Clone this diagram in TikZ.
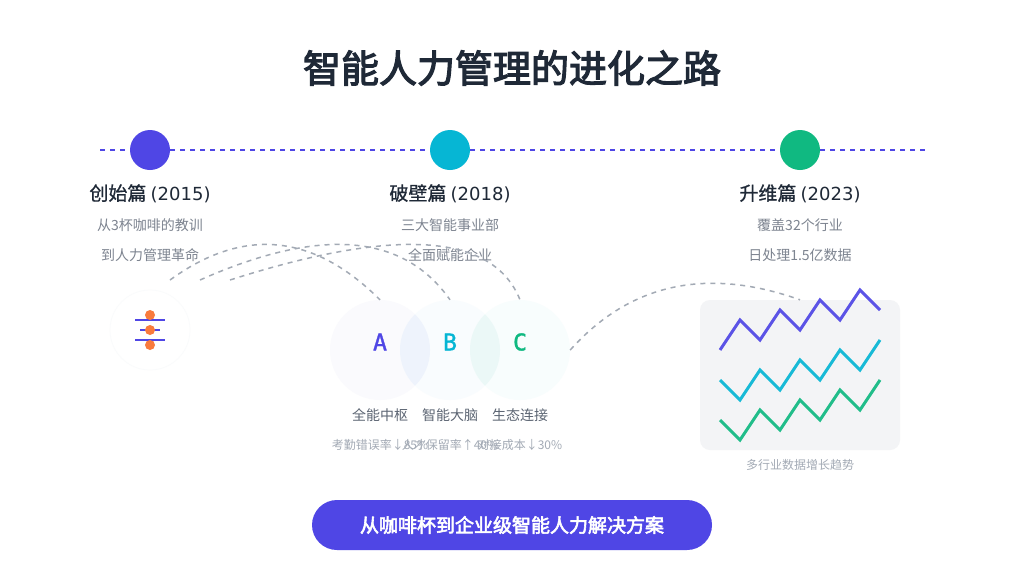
\documentclass[tikz,border=0pt]{standalone}
\usepackage{fontspec}
\usepackage{xcolor}
\usetikzlibrary{arrows.meta}
\setmainfont{Noto Sans CJK SC}
\newfontfamily\latinfont{DejaVu Sans}
\newfontfamily\monofont[FakeBold=1.5]{DejaVu Sans Mono}
\newfontfamily\medfont[FakeBold=0.8]{Noto Sans CJK SC}
\newfontfamily\titlefont[FakeBold=3]{Noto Sans CJK SC}
\definecolor{indigo}{HTML}{4F46E5}
\definecolor{cyanish}{HTML}{06B6D4}
\definecolor{emerald}{HTML}{10B981}
\definecolor{darkink}{HTML}{1F2937}
\definecolor{midink}{HTML}{5B6472}
\definecolor{softink}{HTML}{7D8490}
\definecolor{paleink}{HTML}{A3AAB5}
\definecolor{peach}{HTML}{F97B3D}
\definecolor{panel}{HTML}{F3F4F6}
\definecolor{ring}{HTML}{FAFBFC}
\definecolor{vennAfill}{HTML}{FAFAFD}
\definecolor{vennBfill}{HTML}{F9FCFE}
\definecolor{vennCfill}{HTML}{F8FDFD}
\definecolor{lensAB}{HTML}{EEF3FC}
\definecolor{lensBC}{HTML}{EBF8F7}
\newcommand{\px}[1]{\fontsize{#1}{#1}\selectfont}
\tikzset{
    dot/.style={circle, minimum size=40pt, inner sep=0pt},
    venn/.style={circle, minimum size=100pt, inner sep=0pt},
    era/.style={font=\medfont\px{19}, text=darkink, inner sep=0pt},
    blurb/.style={font=\px{14}, text=softink, inner sep=0pt},
    vennhead/.style={font=\monofont\px{23}, inner sep=0pt},
    vennname/.style={font=\px{14}, text=midink, inner sep=0pt},
    vennstat/.style={font=\px{12}, text=paleink, inner sep=0pt},
    link/.style={draw=paleink, line width=1.5pt, dash pattern=on 5pt off 5pt},
    trend/.style={line width=3pt, opacity=0.92},
    bar/.style={indigo, line width=2.5pt}
}

\begin{document}
\begin{tikzpicture}[x=1pt, y=-1pt]
        \useasboundingbox (0,0) rectangle (1024,576);
        \fill[white] (0,0) rectangle (1024,576);

        \coordinate (LineL) at (100,150);
        \coordinate (LineR) at (925,150);
        \coordinate (Start1) at (170,280);
        \coordinate (Start2) at (200,280);
        \coordinate (Start3) at (230,280);

        \node[font=\titlefont\px{38}, text=darkink, inner sep=0pt] (Title) at (512,68) {智能人力管理的进化之路};

        % timeline
        \draw[indigo, line width=2pt, dash pattern=on 5pt off 5pt] (LineL) -- (LineR);
        \node[dot, fill=indigo] (Dot1) at (150,150) {};
        \node[dot, fill=cyanish] (Dot2) at (450,150) {};
        \node[dot, fill=emerald] (Dot3) at (800,150) {};

        \node[era] (Era1) at (150,193.5) {创始篇 {\latinfont\px{18}(2015)}};
        \node[era] (Era2) at (450,193.5) {破壁篇 {\latinfont\px{18}(2018)}};
        \node[era] (Era3) at (800,193.5) {升维篇 {\latinfont\px{18}(2023)}};

        \node[blurb] (Blurb1a) at (150,225) {从3杯咖啡的教训};
        \node[blurb] (Blurb1b) at (150,255) {到人力管理革命};
        \node[blurb] (Blurb2a) at (450,225) {三大智能事业部};
        \node[blurb] (Blurb2b) at (450,255) {全面赋能企业};
        \node[blurb] (Blurb3a) at (800,225) {覆盖32个行业};
        \node[blurb] (Blurb3b) at (800,255) {日处理1.5亿数据};

        % icon
        \node[circle, minimum size=80pt, inner sep=0pt, fill=white, draw=ring, line width=0.75pt] (Icon) at (150,330) {};
        \coordinate (Bar1L) at (135,320);
        \coordinate (Bar1R) at (165,320);
        \coordinate (Bar2L) at (140,330);
        \coordinate (Bar2R) at (160,330);
        \coordinate (Bar3L) at (135,340);
        \coordinate (Bar3R) at (165,340);
        \draw[bar] (Bar1L) -- (Bar1R);
        \draw[bar] (Bar2L) -- (Bar2R);
        \draw[bar] (Bar3L) -- (Bar3R);
        \fill[peach] (150,315) circle (5pt);
        \fill[peach] (150,330) circle (5pt);
        \fill[peach] (150,345) circle (5pt);

        % venn
        \node[venn, fill=vennAfill] (VennA) at (380,350) {};
        \node[venn, fill=vennBfill] (VennB) at (450,350) {};
        \node[venn, fill=vennCfill] (VennC) at (520,350) {};
        \begin{scope}
            \clip (VennA.center) circle (50pt);
            \fill[lensAB] (VennB.center) circle (50pt);
        \end{scope}
        \begin{scope}
            \clip (VennB.center) circle (50pt);
            \fill[lensBC] (VennC.center) circle (50pt);
        \end{scope}
        \node[vennhead, text=indigo] (HeadA) at (380,342) {A};
        \node[vennhead, text=cyanish] (HeadB) at (450,342) {B};
        \node[vennhead, text=emerald] (HeadC) at (520,342) {C};
        \node[vennname] (NameA) at (380,415) {全能中枢};
        \node[vennname] (NameB) at (450,415) {智能大脑};
        \node[vennname] (NameC) at (520,415) {生态连接};
        \node[vennstat] (StatA) at (380,445) {考勤错误率↓85\%};
        \node[vennstat] (StatB) at (450,445) {人才保留率↑40\%};
        \node[vennstat] (StatC) at (520,445) {对接成本↓30\%};

        % chart
        \node[fill=panel, rounded corners=10pt, minimum width=200pt, minimum height=150pt, inner sep=0pt] (Chart) at (800,375) {};
        \draw[trend, indigo] (720,350) -- (740,320) -- (760,340) -- (780,310) -- (800,330) -- (820,300) -- (840,320) -- (860,290) -- (880,310);
        \draw[trend, cyanish] (720,380) -- (740,400) -- (760,370) -- (780,390) -- (800,360) -- (820,380) -- (840,350) -- (860,370) -- (880,340);
        \draw[trend, emerald] (720,420) -- (740,440) -- (760,410) -- (780,430) -- (800,400) -- (820,420) -- (840,390) -- (860,410) -- (880,380);
        \node[vennstat] (ChartCap) at (800,465) {多行业数据增长趋势};

        % links
        \draw[link] (Start1) .. controls (243.3,226.7) and (313.3,233.3) .. (VennA.north);
        \draw[link] (Start2) .. controls (320,226.7) and (403.3,233.3) .. (VennB.north);
        \draw[link] (Start3) .. controls (396.7,226.7) and (493.3,233.3) .. (VennC.north);
        \draw[link] (VennC.east) .. controls (630,283.3) and (706.7,266.7) .. (Chart.north);

        % banner
        \node[rounded corners=25pt, fill=indigo, minimum width=400pt, minimum height=50pt, inner sep=0pt, font=\titlefont\px{19}, text=white] (Banner) at (512,525) {从咖啡杯到企业级智能人力解决方案};
    \end{tikzpicture}
\end{document}
